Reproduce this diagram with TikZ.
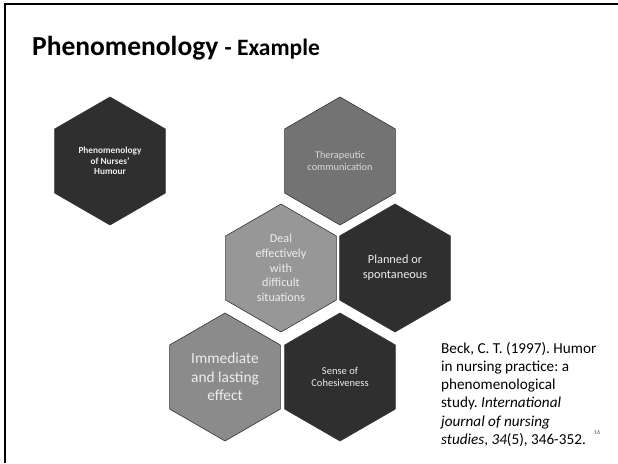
\documentclass[tikz,border=0pt]{standalone}
\usepackage{fontspec}
\setmainfont{Carlito}
\usetikzlibrary{shapes.geometric}
\frenchspacing

\definecolor{hexdark}{HTML}{2F2F2F}
\definecolor{hexmid}{HTML}{737373}
\definecolor{hexlight}{HTML}{979797}
\definecolor{hexgrey}{HTML}{8B8B8B}
\definecolor{hextext}{HTML}{EDEDED}

\begin{document}
\begin{tikzpicture}
          [x=1pt,y=-1pt,
           hexcell/.style={regular polygon, regular polygon sides=6, shape border rotate=30,
             draw=black!80, line width=0.6pt, minimum size=128pt, inner sep=0pt,
             align=center, text=hextext}]
        \useasboundingbox (0,0) rectangle (618,463);
        \draw[line width=1.4pt] (5,463) -- (5,4) -- (618,4);

        \node[anchor=base west, inner sep=0pt, font=\bfseries\fontsize{27.5}{33}\selectfont] (title) at (32,55)
          {Phenomenology {\fontsize{23.5}{28}\selectfont - Example}};

        \node[hexcell, fill=hexdark, font=\bfseries\fontsize{9.3}{10.6}\selectfont] (humour) at (110,161)
          {Phenomenology\\of Nurses'\\Humour};

        \node[hexcell, fill=hexmid, text=black!15, font=\fontsize{10.3}{12}\selectfont] (therapeutic) at (340,161)
          {Therapeutic\\communication};

        \node[hexcell, fill=hexlight, font=\fontsize{12.2}{14.8}\selectfont] (deal) at (281,268)
          {Deal\\effectively\\with\\difficult\\situations};
        \node[hexcell, fill=hexdark, font=\fontsize{12.3}{15}\selectfont] (planned) at (395,268)
          {Planned or\\spontaneous};

        \node[hexcell, fill=hexgrey, font=\fontsize{15.4}{18.5}\selectfont] (immediate) at (225,377)
          {Immediate\\and lasting\\effect};
        \node[hexcell, fill=hexdark, font=\fontsize{10.5}{12.7}\selectfont] (cohesion) at (340,377)
          {Sense of\\Cohesiveness};

        \node[anchor=north west, inner sep=0pt, align=left, font=\fontsize{15.2}{18.2}\selectfont] (citation) at (441,342)
          {Beck, C. T. (1997). Humor\\in nursing practice: a\\phenomenological\\study. \textit{International}\\
           \textit{journal of nursing}\\\textit{studies}, \textit{34}(5), 346-352.};

        \node[font=\fontsize{6}{7}\selectfont, text=black!70] (pagenum) at (597,432) {16};
      \end{tikzpicture}
\end{document}
